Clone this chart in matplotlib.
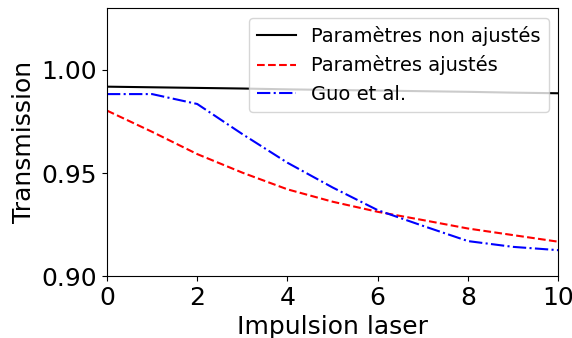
import numpy as np
import matplotlib.pyplot as plt

impulsions = np.arange(0, 11)
non_ajustes = [0.9919, 0.9916, 0.9913, 0.9910, 0.9906, 0.9903, 0.9900, 0.9897, 0.9894, 0.9890, 0.9887]
ajustes = [0.9803, 0.9700, 0.9592, 0.9502, 0.9421, 0.9361, 0.9312, 0.9272, 0.9231, 0.9199, 0.9167]
guo = [0.9883, 0.9883, 0.9835, 0.9689, 0.9550, 0.9430, 0.9320, 0.9244, 0.9170, 0.9142, 0.9126]

fig = plt.figure(figsize=(5.72, 3.38), dpi=100)
ax = fig.add_axes([0.187, 0.183, 0.789, 0.793])

ax.plot(impulsions, non_ajustes, 'k-', label='Paramètres non ajustés')
ax.plot(impulsions, ajustes, 'r--', label='Paramètres ajustés')
ax.plot(impulsions, guo, 'b-.', label='Guo et al.')

ax.set_xlim(0, 10)
ax.set_ylim(0.90, 1.03)
ax.set_yticks([0.90, 0.95, 1.00])
ax.set_xlabel('Impulsion laser', fontsize=18)
ax.set_ylabel('Transmission', fontsize=18)
ax.tick_params(labelsize=18)
ax.legend(loc='upper right', fontsize=14)

plt.savefig('out.png')
